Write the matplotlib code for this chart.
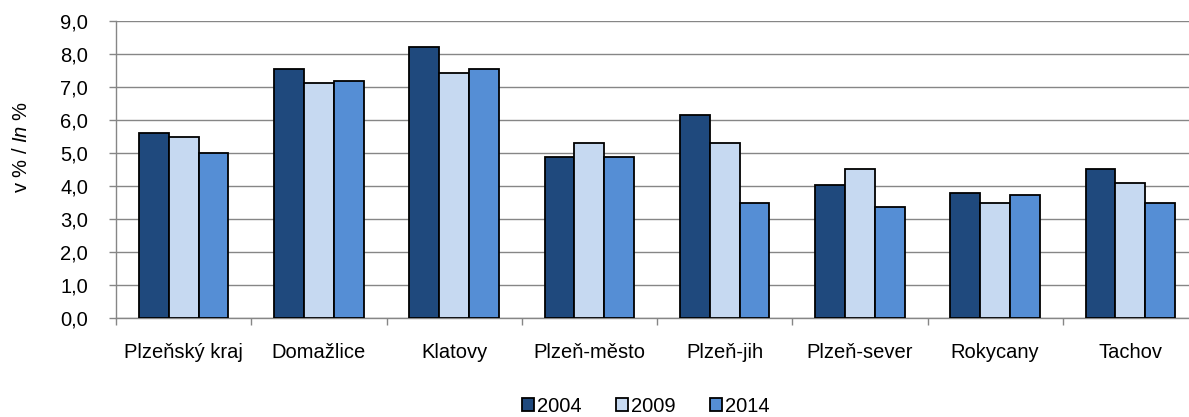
import matplotlib
matplotlib.use("Agg")
import matplotlib.pyplot as plt
import numpy as np
from matplotlib.ticker import FixedLocator, FuncFormatter

plt.rcParams['font.family'] = ['Liberation Sans', 'DejaVu Sans']
plt.rcParams['mathtext.fontset'] = 'custom'
plt.rcParams['mathtext.rm'] = 'Liberation Sans'
plt.rcParams['mathtext.it'] = 'Liberation Sans:italic'

categories = ["Plzeňský kraj", "Domažlice", "Klatovy", "Plzeň-město",
              "Plzeň-jih", "Plzeň-sever", "Rokycany", "Tachov"]
years = ["2004", "2009", "2014"]
v2004 = [5.6, 7.55, 8.2, 4.88, 6.15, 4.03, 3.79, 4.52]
v2009 = [5.48, 7.12, 7.42, 5.3, 5.3, 4.52, 3.48, 4.09]
v2014 = [5.0, 7.18, 7.55, 4.88, 3.48, 3.36, 3.73, 3.48]
series = [v2004, v2009, v2014]
colors = ["#1F497D", "#C6D9F1", "#558ED5"]

FS = 14.5
W, H = 1189, 417
fig = plt.figure(figsize=(W / 100, H / 100), dpi=100)
left, right, bottom, top = 116, 1198, 318, 21
ax = fig.add_axes([left / W, 1 - bottom / H, (right - left) / W, (bottom - top) / H])

x = np.arange(len(categories))
bw = 0.221
for i, (vals, c, lab) in enumerate(zip(series, colors, years)):
    ax.bar(x + (i - 1) * bw, vals, width=bw, color=c, edgecolor="black",
           linewidth=1.3, label=lab, zorder=3)

ax.set_xlim(-0.5, len(categories) - 0.5)
ax.set_ylim(0, 9)
ax.set_yticks(np.arange(0, 9.01, 1.0))
ax.yaxis.set_major_formatter(FuncFormatter(lambda v, p: f"{v:.1f}".replace(".", ",")))
ax.grid(axis="y", color="#868686", linewidth=1.0, zorder=0)
ax.set_axisbelow(True)

ax.set_xticks(x)
ax.set_xticklabels(categories)
ax.xaxis.set_minor_locator(FixedLocator(np.arange(-0.5, len(categories), 1.0)))
ax.tick_params(axis="x", which="major", length=0, pad=18, labelsize=FS)
ax.tick_params(axis="x", which="minor", length=5, color="#868686", width=1.0)
ax.tick_params(axis="y", length=5, color="#868686", width=1.0, pad=15, labelsize=FS)

for s in ["top", "right"]:
    ax.spines[s].set_visible(False)
for s in ["left", "bottom"]:
    ax.spines[s].set_color("#868686")
    ax.spines[s].set_linewidth(1.0)

fig.text(22 / W, 1 - 147 / H, r"v % / $\mathit{In}$ %", rotation=90,
         ha="center", va="center", fontsize=FS)

handles, labels = ax.get_legend_handles_labels()
fig.legend(handles, labels, loc="center", bbox_to_anchor=(646 / W, 1 - 406 / H),
           ncol=3, frameon=False, fontsize=FS, handlelength=0.6, handleheight=0.6,
           handletextpad=0.15, columnspacing=1.7, borderpad=0)

fig.savefig("out.png", dpi=100)
